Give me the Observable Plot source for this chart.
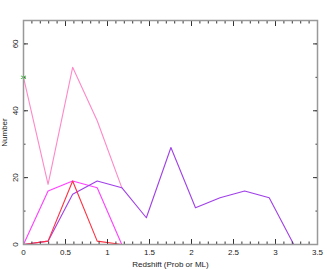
<!DOCTYPE html>
<html><head><meta charset="utf-8">
<script src="https://cdn.jsdelivr.net/npm/d3@7"></script>
<script src="https://cdn.jsdelivr.net/npm/@observablehq/plot@0.6"></script>
<style>body{margin:0;background:#fff}</style>
</head><body><div id="chart"></div>
<script>
const redshift = [0, 0.2925, 0.585, 0.8775, 1.17, 1.4625, 1.755, 2.0475, 2.34, 2.6325, 2.925, 3.2175];
const pinkVals    = [50, 18, 53, 37, 17];
const purpleVals  = [0, 1, 15, 19, 17, 8, 29, 11, 14, 16, 14, 0];
const magentaVals = [0, 16, 19, 17, 0];
const redVals     = [0, 1, 19, 1, 0, 0, 0, 0, 0, 0, 0, 0];
const starX = [0], starY = [50];
const xMajor = [0, 0.5, 1, 1.5, 2, 2.5, 3, 3.5];
const xMinor = d3.range(0, 3.501, 0.1);
const yMajor = [0, 20, 40, 60];
const yMinor = [0, 10, 20, 30, 40, 50, 60];

const toRows = (vals, s) => vals.map((v, i) => ({x: redshift[i], y: v, s}));
const series = [
  {name: "pink", vals: pinkVals, color: "#ff88c8"},
  {name: "magenta", vals: magentaVals, color: "#ff40ff"},
  {name: "purple", vals: purpleVals, color: "#a040e8"},
  {name: "red", vals: redVals, color: "#ff3040"}
];
const font = "Liberation Sans, Arial, sans-serif";
const grey = "#999";
const tk = (axis, anchor, ticks, size) => axis({anchor, ticks, tickSize: size, text: null, label: null, stroke: "#333"});

const chart = Plot.plot({
  width: 327, height: 269,
  marginLeft: 23, marginRight: 10, marginTop: 20, marginBottom: 25,
  style: {fontFamily: font, fontSize: "8px", background: "#fff"},
  x: {domain: [0, 3.5]},
  y: {domain: [0, 67]},
  marks: [
    ...series.map(s => Plot.line(toRows(s.vals, s.name), {x: "x", y: "y", stroke: s.color, strokeWidth: 1.1})),
    Plot.dot(starX.map((x, i) => ({x, y: starY[i]})), {x: "x", y: "y", symbol: "asterisk", r: 2.5, stroke: "#22cc22", strokeWidth: 1}),
    tk(Plot.axisX, "bottom", xMajor, -5),
    tk(Plot.axisX, "bottom", xMinor, -2.5),
    tk(Plot.axisX, "top", xMajor, -5),
    tk(Plot.axisX, "top", xMinor, -2.5),
    tk(Plot.axisY, "left", yMajor, -5),
    tk(Plot.axisY, "left", yMinor, -2.5),
    tk(Plot.axisY, "right", yMajor, -5),
    tk(Plot.axisY, "right", yMinor, -2.5),
    Plot.axisX({anchor: "bottom", ticks: xMajor, tickSize: 0, tickPadding: 5, tickFormat: d => String(d), label: "Redshift (Prob or ML)", labelAnchor: "center", labelArrow: "none", labelOffset: 22, fill: "#222"}),
    Plot.axisY({anchor: "left", ticks: yMajor, tickSize: 0, tickPadding: 6, tickRotate: -90, tickFormat: d => String(d), label: "Number", labelAnchor: "center", labelArrow: "none", labelOffset: 22, fill: "#222"}),
    Plot.frame({stroke: grey, strokeWidth: 1.5})
  ]
});
document.getElementById("chart").appendChild(chart);
</script></body></html>
